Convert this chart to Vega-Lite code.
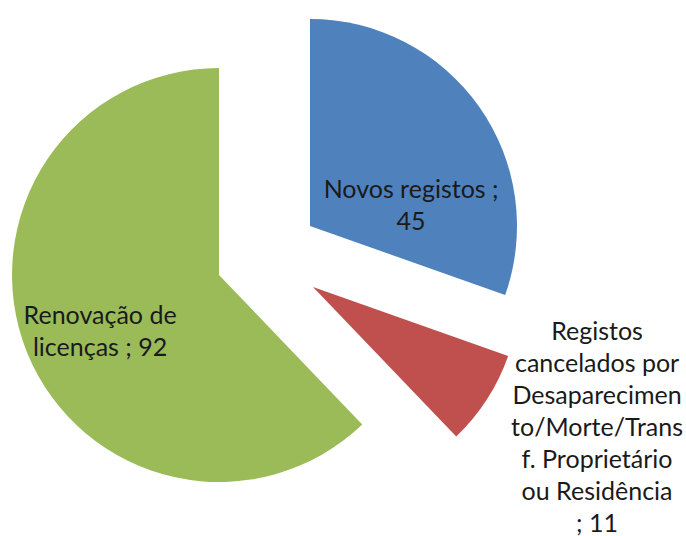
{
  "$schema": "https://vega.github.io/schema/vega-lite/v6.json",
  "width": 686,
  "height": 536,
  "autosize": "none",
  "padding": 0,
  "background": "white",
  "view": {"stroke": null},
  "config": {"font": "Lato"},
  "data": {
    "values": [
      {"cat": "Novos registos", "value": 45, "ord": 1, "label": ["Novos registos ;", "45"]},
      {"cat": "Registos cancelados", "value": 11, "ord": 2, "label": ["Registos", "cancelados por", "Desaparecimen", "to/Morte/Trans", "f. Proprietário", "ou Residência", "; 11"]},
      {"cat": "Renovação de licenças", "value": 92, "ord": 3, "label": ["Renovação de", "licenças ; 92"]}
    ]
  },
  "encoding": {
    "theta": {"field": "value", "type": "quantitative", "stack": true},
    "order": {"field": "ord", "type": "quantitative"},
    "color": {
      "field": "cat",
      "type": "nominal",
      "scale": {"domain": ["Novos registos", "Registos cancelados", "Renovação de licenças"], "range": ["#4F81BD", "#C0504D", "#9BBB59"]},
      "legend": null
    }
  },
  "layer": [
    {
      "mark": {"type": "arc", "radius": 207, "xOffset": -33, "yOffset": -42},
      "encoding": {"opacity": {"condition": {"test": "datum.cat === 'Novos registos'", "value": 1}, "value": 0}}
    },
    {
      "mark": {"type": "arc", "radius": 207, "xOffset": -30, "yOffset": 19},
      "encoding": {"opacity": {"condition": {"test": "datum.cat === 'Registos cancelados'", "value": 1}, "value": 0}}
    },
    {
      "mark": {"type": "arc", "radius": 207, "xOffset": -124, "yOffset": 7},
      "encoding": {"opacity": {"condition": {"test": "datum.cat === 'Renovação de licenças'", "value": 1}, "value": 0}}
    },
    {
      "mark": {"type": "text", "radius": 92, "dx": -7, "dy": -25, "fontSize": 25, "lineHeight": 32, "align": "center", "baseline": "middle"},
      "encoding": {
        "text": {"field": "label"},
        "color": {"value": "#1a1a1a"},
        "opacity": {"condition": {"test": "datum.cat === 'Novos registos'", "value": 1}, "value": 0}
      }
    },
    {
      "mark": {"type": "text", "radius": 300, "dx": 2, "dy": -99, "fontSize": 25, "lineHeight": 32, "align": "center", "baseline": "middle"},
      "encoding": {
        "text": {"field": "label"},
        "color": {"value": "#1a1a1a"},
        "opacity": {"condition": {"test": "datum.cat === 'Registos cancelados'", "value": 1}, "value": 0}
      }
    },
    {
      "mark": {"type": "text", "radius": 251, "dx": -10, "dy": -46, "fontSize": 25, "lineHeight": 32, "align": "center", "baseline": "middle"},
      "encoding": {
        "text": {"field": "label"},
        "color": {"value": "#1a1a1a"},
        "opacity": {"condition": {"test": "datum.cat === 'Renovação de licenças'", "value": 1}, "value": 0}
      }
    }
  ]
}
